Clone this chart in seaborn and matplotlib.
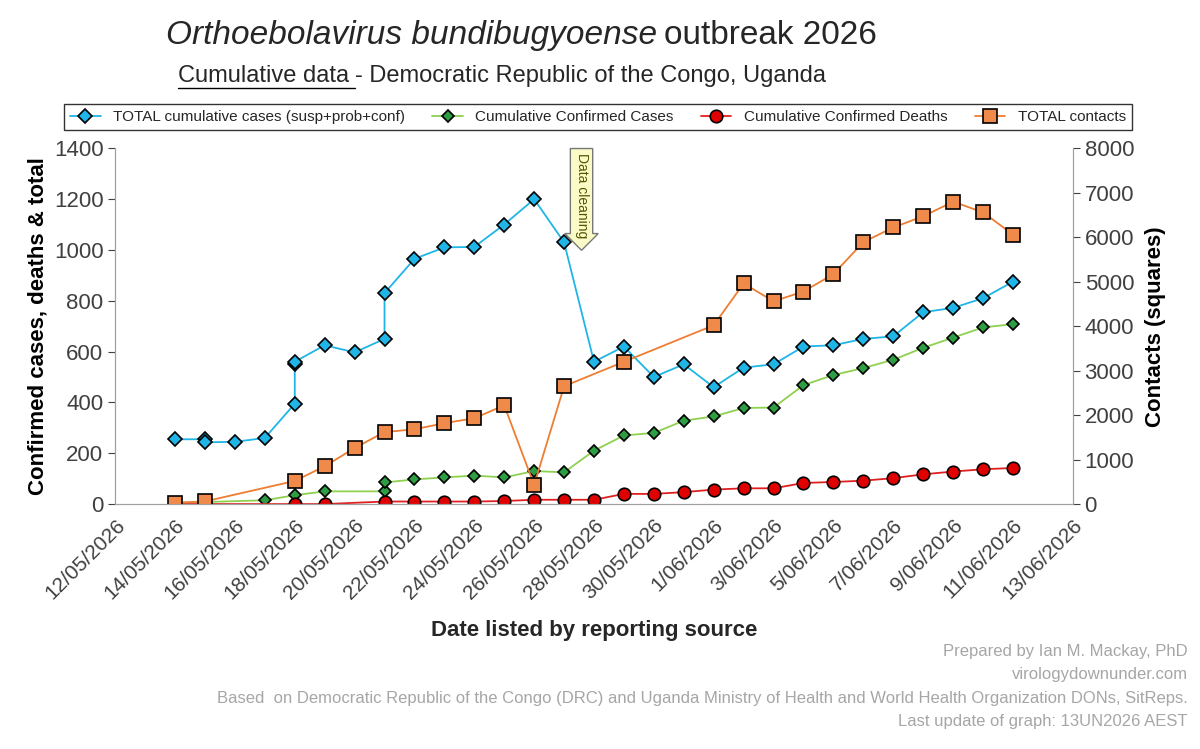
import matplotlib
matplotlib.use("Agg")
import matplotlib.pyplot as plt
import matplotlib.dates as mdates
import seaborn as sns
import pandas as pd
from matplotlib.ticker import FuncFormatter

sns.set_style("white")
plt.rcParams['font.family'] = ['Liberation Sans', 'DejaVu Sans']

tot_dates = ["2026-05-14","2026-05-15","2026-05-15","2026-05-16","2026-05-17","2026-05-18","2026-05-18","2026-05-18",
             "2026-05-19","2026-05-20","2026-05-21","2026-05-21","2026-05-22","2026-05-23","2026-05-24","2026-05-25",
             "2026-05-26","2026-05-27","2026-05-28","2026-05-29","2026-05-30","2026-05-31","2026-06-01","2026-06-02",
             "2026-06-03","2026-06-04","2026-06-05","2026-06-06","2026-06-07","2026-06-08","2026-06-09","2026-06-10","2026-06-11"]
tot_vals = [255,255,243,245,260,395,550,560,625,597,650,830,965,1010,1012,1100,1200,1030,560,620,500,550,460,537,550,620,625,650,660,755,772,810,875]

conf_dates = ["2026-05-14","2026-05-15","2026-05-17","2026-05-18","2026-05-19","2026-05-21","2026-05-21","2026-05-22",
              "2026-05-23","2026-05-24","2026-05-25","2026-05-26","2026-05-27","2026-05-28","2026-05-29","2026-05-30",
              "2026-05-31","2026-06-01","2026-06-02","2026-06-03","2026-06-04","2026-06-05","2026-06-06","2026-06-07",
              "2026-06-08","2026-06-09","2026-06-10","2026-06-11"]
conf_vals = [5,8,15,35,50,50,85,97,105,112,105,130,125,210,270,280,328,345,378,380,468,508,535,568,615,655,695,708]

death_dates = ["2026-05-14","2026-05-15","2026-05-18","2026-05-19","2026-05-21","2026-05-22","2026-05-23","2026-05-24",
               "2026-05-25","2026-05-26","2026-05-27","2026-05-28","2026-05-29","2026-05-30","2026-05-31","2026-06-01",
               "2026-06-02","2026-06-03","2026-06-04","2026-06-05","2026-06-06","2026-06-07","2026-06-08","2026-06-09",
               "2026-06-10","2026-06-11"]
death_vals = [0,0,0,0,10,10,10,10,12,17,17,17,40,40,47,57,62,62,83,87,92,102,117,128,137,142]

cont_dates = ["2026-05-14","2026-05-15","2026-05-18","2026-05-19","2026-05-20","2026-05-21","2026-05-22","2026-05-23",
              "2026-05-24","2026-05-25","2026-05-26","2026-05-27","2026-05-29","2026-06-01","2026-06-02","2026-06-03",
              "2026-06-04","2026-06-05","2026-06-06","2026-06-07","2026-06-08","2026-06-09","2026-06-10","2026-06-11"]
cont_vals = [30,60,520,850,1260,1620,1680,1820,1930,2220,430,2650,3200,4020,4960,4560,4780,5170,5890,6220,6470,6800,6560,6060]

fig = plt.figure(figsize=(12, 7.49), dpi=100)
ax = fig.add_axes([0.096, 0.327, 0.798, 0.475])
ax2 = ax.twinx()

def D(l): return pd.to_datetime(l)

kw = dict(estimator=None, sort=False, markeredgecolor='black', markeredgewidth=1.2, linewidth=1.3)
sns.lineplot(x=D(tot_dates), y=tot_vals, ax=ax, color='#1fb5e6', marker='D', markersize=7,
             markerfacecolor='#1fb5e6', label='TOTAL cumulative cases (susp+prob+conf)', **kw)
sns.lineplot(x=D(conf_dates), y=conf_vals, ax=ax, color='#8ed14f', marker='D', markersize=6,
             markerfacecolor='#2e9e44', label='Cumulative Confirmed Cases', **kw)
sns.lineplot(x=D(death_dates), y=death_vals, ax=ax, color='#e02020', marker='o', markersize=9,
             markerfacecolor='#e00000', label='Cumulative Confirmed Deaths', **kw)
sns.lineplot(x=D(cont_dates), y=cont_vals, ax=ax2, color='#ee7d31', marker='s', markersize=10,
             markerfacecolor='#f08a4b', label='TOTAL contacts', **kw)

ax.set_xlim(pd.Timestamp("2026-05-12"), pd.Timestamp("2026-06-13"))
ax.set_ylim(0, 1400)
ax2.set_ylim(0, 8000)
ax.set_yticks(range(0, 1401, 200))
ax2.set_yticks(range(0, 8001, 1000))
ax.set_xticks(pd.date_range("2026-05-12", "2026-06-13", freq="2D"))
ax.xaxis.set_major_formatter(FuncFormatter(lambda v, p: (lambda d: f"{d.day}/{d.month:02d}/{d.year}")(mdates.num2date(v))))
for lab in ax.get_xticklabels():
    lab.set_rotation(45); lab.set_ha('right'); lab.set_rotation_mode('anchor')
ax.tick_params(axis='x', labelsize=15, colors='#404040', length=5)
ax.tick_params(axis='y', labelsize=16, colors='#404040', length=5)
ax2.tick_params(axis='y', labelsize=16, colors='#404040', length=5)
for a in (ax, ax2):
    for s in a.spines.values():
        s.set_color('#a0a0a0')
    a.spines['top'].set_visible(False)
ax.set_ylabel("Confirmed cases, deaths & total", fontsize=16, fontweight='bold', color='black')
ax2.set_ylabel("Contacts (squares)", fontsize=16, fontweight='bold', color='black', labelpad=8)
ax.set_xlabel("Date listed by reporting source", fontsize=16, fontweight='bold', labelpad=12)

h1, lb1 = ax.get_legend_handles_labels()
h2, lb2 = ax2.get_legend_handles_labels()
ax2.get_legend().remove()
ax.legend(h1 + h2, lb1 + lb2, ncol=4, loc='lower center', bbox_to_anchor=(0.504, 1.03),
          fontsize=11, frameon=True, fancybox=False, edgecolor='black', columnspacing=1.8)

ax.text(pd.Timestamp("2026-05-27 14:00"), 1215, "Data cleaning", rotation=270, ha='center', va='center',
        fontsize=10, color='#555500',
        bbox=dict(boxstyle='rarrow,pad=0.3', fc='#fbfbc8', ec='#777777'))

fig.text(0.548, 0.952, "Orthoebolavirus bundibugyoense", style='italic', fontsize=24, ha='right', va='center')
fig.text(0.553, 0.952, "outbreak 2026", fontsize=24, ha='left', va='center')
fig.text(0.148, 0.899, "Cumulative data ", fontsize=17, ha='left', va='center')
fig.add_artist(plt.Line2D([0.148, 0.296], [0.882, 0.882], color='black', lw=1))
fig.text(0.296, 0.899, "- Democratic Republic of the Congo, Uganda", fontsize=17, ha='left', va='center')

foot = ["Prepared by Ian M. Mackay, PhD", "virologydownunder.com",
        "Based  on Democratic Republic of the Congo (DRC) and Uganda Ministry of Health and World Health Organization DONs, SitReps.",
        "Last update of graph: 13UN2026 AEST"]
for i, t in enumerate(foot):
    fig.text(0.99, 0.130 - i * 0.031, t, fontsize=12, color='#a6a6a6', ha='right', va='center')

fig.savefig("out.png", dpi=100)
